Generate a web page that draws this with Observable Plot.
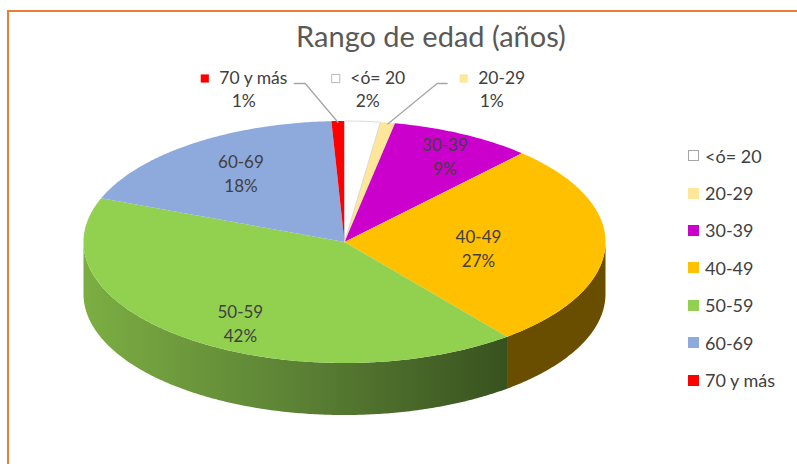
<!DOCTYPE html>
<html><head><meta charset="utf-8">
<script src="https://cdn.jsdelivr.net/npm/d3@7"></script>
<script src="https://cdn.jsdelivr.net/npm/@observablehq/plot@0.6"></script>
<style>
html,body{margin:0;padding:0;background:#fff;}
#wrap{position:relative;width:797px;height:464px;overflow:hidden;font-family:Lato,"Open Sans",sans-serif;}
#chart{position:absolute;left:0;top:0;}
#frame{position:absolute;left:7px;top:10px;width:820px;height:480px;border:2px solid #ED7D31;box-sizing:border-box;pointer-events:none;}
#title{position:absolute;left:0;width:862px;top:20px;text-align:center;font-size:29px;line-height:32px;color:#595959;}
#legend{position:absolute;left:688px;top:137px;}
.item{height:37.4px;display:flex;align-items:center;font-size:18px;color:#404040;}
.sw{width:11px;height:11px;margin-right:6px;box-sizing:border-box;flex:none;}
</style></head><body>
<div id="wrap"><div id="chart"></div><div id="frame"></div><div id="title"></div><div id="legend"></div></div>
<script>
// ---- data ----
const categories = ["<ó= 20", "20-29", "30-39", "40-49", "50-59", "60-69", "70 y más"];
const values = [2.2, 0.9, 8.8, 27.4, 41.6, 18.3, 0.8];
const topColors = ["#FFFFFF", "#FFE699", "#CC00CC", "#FFC000", "#92D050", "#8EA9DB", "#FF0000"];
const sideColors = ["#BFBFBF", "#BFA95F", "#7A007A", "#6A4E00", "#5E8436", "#55698F", "#990000"];
const title = "Rango de edad (años)";
document.getElementById("title").textContent = title;

// ---- geometry (unit ellipse, scaled by Plot's x/y scales) ----
const cx = 344, cy = 241.5, rx = 261, ry = 121;
const depth = 52 / ry;
const total = d3.sum(values);
const TAU = Math.PI * 2;
let acc = 0;
const slices = categories.map((cat, i) => {
  const a0 = acc / total * TAU; acc += values[i];
  const a1 = acc / total * TAU;
  return {cat, i, value: values[i], a0, a1, mid: (a0 + a1) / 2, pct: Math.round(values[i] / total * 100) + "%"};
});
const pt = (a, dv = 0) => ({u: Math.sin(a), v: -Math.cos(a) + dv});
function arc(a0, a1, dv = 0) {
  const n = Math.max(2, Math.ceil((a1 - a0) / 0.01));
  return d3.range(n + 1).map(k => pt(a0 + (a1 - a0) * k / n, dv));
}
const sideKey = c => "lado " + c;
const topRows = slices.flatMap(s => [{u: 0, v: 0}, ...arc(s.a0, s.a1), {u: 0, v: 0}].map(p => ({...p, key: s.cat})));
const sideRows = slices.flatMap(s => {
  const st = Math.max(s.a0, Math.PI / 2), en = Math.min(s.a1, 3 * Math.PI / 2);
  if (en <= st) return [];
  return [...arc(st, en), ...arc(st, en, depth).reverse()].map(p => ({...p, key: sideKey(s.cat)}));
});

// inside labels: fixed pixel distance from the centre, along the rim direction (front pushed down by perspective)
const labelDist = 129;
const big = slices.filter(s => s.value >= 5);
const inLabels = big.map(s => {
  const dx = rx * Math.sin(s.mid), dy = -ry * Math.cos(s.mid), L = Math.hypot(dx, dy);
  let px = labelDist * dx / L + 5, py = labelDist * dy / L;
  if (py > 0) py = py * 1.12 + 3;
  return {u: px / rx, v: py / ry, text: s.cat + "\n" + s.pct};
});

// outside labels for small slices, laid out in a row above the pie
const outFont = 17.5;
const ctx = document.createElement("canvas").getContext("2d");
ctx.font = outFont + "px Lato";
const small = slices.filter(s => s.value < 5).map(s => ({...s, sa: s.mid > Math.PI ? s.mid - TAU : s.mid})).sort((a, b) => a.sa - b.sa);
const midIdx = Math.floor(small.length / 2);
const base = Math.sin(small[midIdx].sa) + 0.02;
const outRows = small.map((s, k) => {
  const c = base + (k - midIdx) * 0.475;
  const tw = ctx.measureText(s.cat).width;
  const full = tw + 11 + 9;
  const left = c - full / 2 / rx, right = c + full / 2 / rx;
  return {...s, c, left, right, textX: left + 20 / rx, rimU: Math.sin(s.mid), rimV: -Math.cos(s.mid)};
});
const lvName = (78 - cy) / ry, lvPct = (101 - cy) / ry, lvLead = (83 - cy) / ry;
const leaders = [];
outRows.forEach(o => {
  if (Math.abs(o.c - o.rimU) < 0.15) return;
  const onLeft = o.c < o.rimU;
  const x0 = onLeft ? o.right + 6 / rx : o.left - 11 / rx;
  const x1 = onLeft ? x0 + 11 / rx : x0 - 10 / rx;
  leaders.push({u: x0, v: lvLead, g: o.cat}, {u: x1, v: lvLead, g: o.cat}, {u: o.rimU, v: o.rimV + 0.01, g: o.cat});
});

const chart = Plot.plot({
  width: 797, height: 464, margin: 0,
  x: {domain: [-1, 1], range: [cx - rx, cx + rx], axis: null},
  y: {domain: [-1, 1], range: [cy - ry, cy + ry], axis: null},
  color: {domain: [...categories, ...categories.map(sideKey)], range: [...topColors, ...sideColors]},
  style: {fontFamily: "Lato, 'Open Sans', sans-serif", background: "transparent"},
  marks: [
    Plot.line(sideRows, {x: "u", y: "v", z: "key", fill: "key", stroke: "none", curve: "linear"}),
    Plot.line(topRows, {x: "u", y: "v", z: "key", fill: "key", stroke: "none", curve: "linear"}),
    Plot.line(topRows.filter(d => d.key === categories[0]), {x: "u", y: "v", stroke: "#d2d2d2", strokeWidth: 0.8, curve: "linear"}),
    Plot.text(inLabels, {x: "u", y: "v", text: "text", fontSize: 17, fill: "#404040", lineHeight: 1.4}),
    Plot.line(leaders, {x: "u", y: "v", z: "g", stroke: "#A6A6A6", strokeWidth: 1.3, curve: "linear"}),
    Plot.text(outRows, {x: "textX", y: () => lvName, text: "cat", textAnchor: "start", fontSize: outFont, fill: "#404040"}),
    Plot.text(outRows, {x: "c", y: () => lvPct, text: "pct", fontSize: outFont, fill: "#404040"}),
    Plot.dot(outRows, {x: d => d.left + 5.5 / rx, y: () => lvName, symbol: "square", r: 4.6, fill: "cat", stroke: d => d.i === 0 ? "#A6A6A6" : "none", strokeWidth: 0.8})
  ]
});
document.getElementById("chart").appendChild(chart);

// gradient for the large green side
const svg = d3.select(chart);
const defs = svg.insert("defs", ":first-child");
const grad = defs.append("linearGradient").attr("id", "greenSide").attr("x1", 0).attr("x2", 1).attr("y1", 0).attr("y2", 0);
[[0, "#7CAE42"], [0.5, "#5C8235"], [1, "#38521F"]].forEach(([o, c]) => grad.append("stop").attr("offset", o).attr("stop-color", c));
const greenHex = d3.color(sideColors[4]).formatHex();
svg.selectAll("path").each(function () {
  const f = this.getAttribute("fill");
  if (f && d3.color(f) && d3.color(f).formatHex() === greenHex) this.setAttribute("fill", "url(#greenSide)");
});

// legend
const leg = d3.select("#legend");
categories.forEach((c, i) => {
  const it = leg.append("div").attr("class", "item");
  it.append("div").attr("class", "sw").style("background", topColors[i]).style("border", i === 0 ? "1px solid #A6A6A6" : "none");
  it.append("span").text(c);
});
</script>
</body></html>
